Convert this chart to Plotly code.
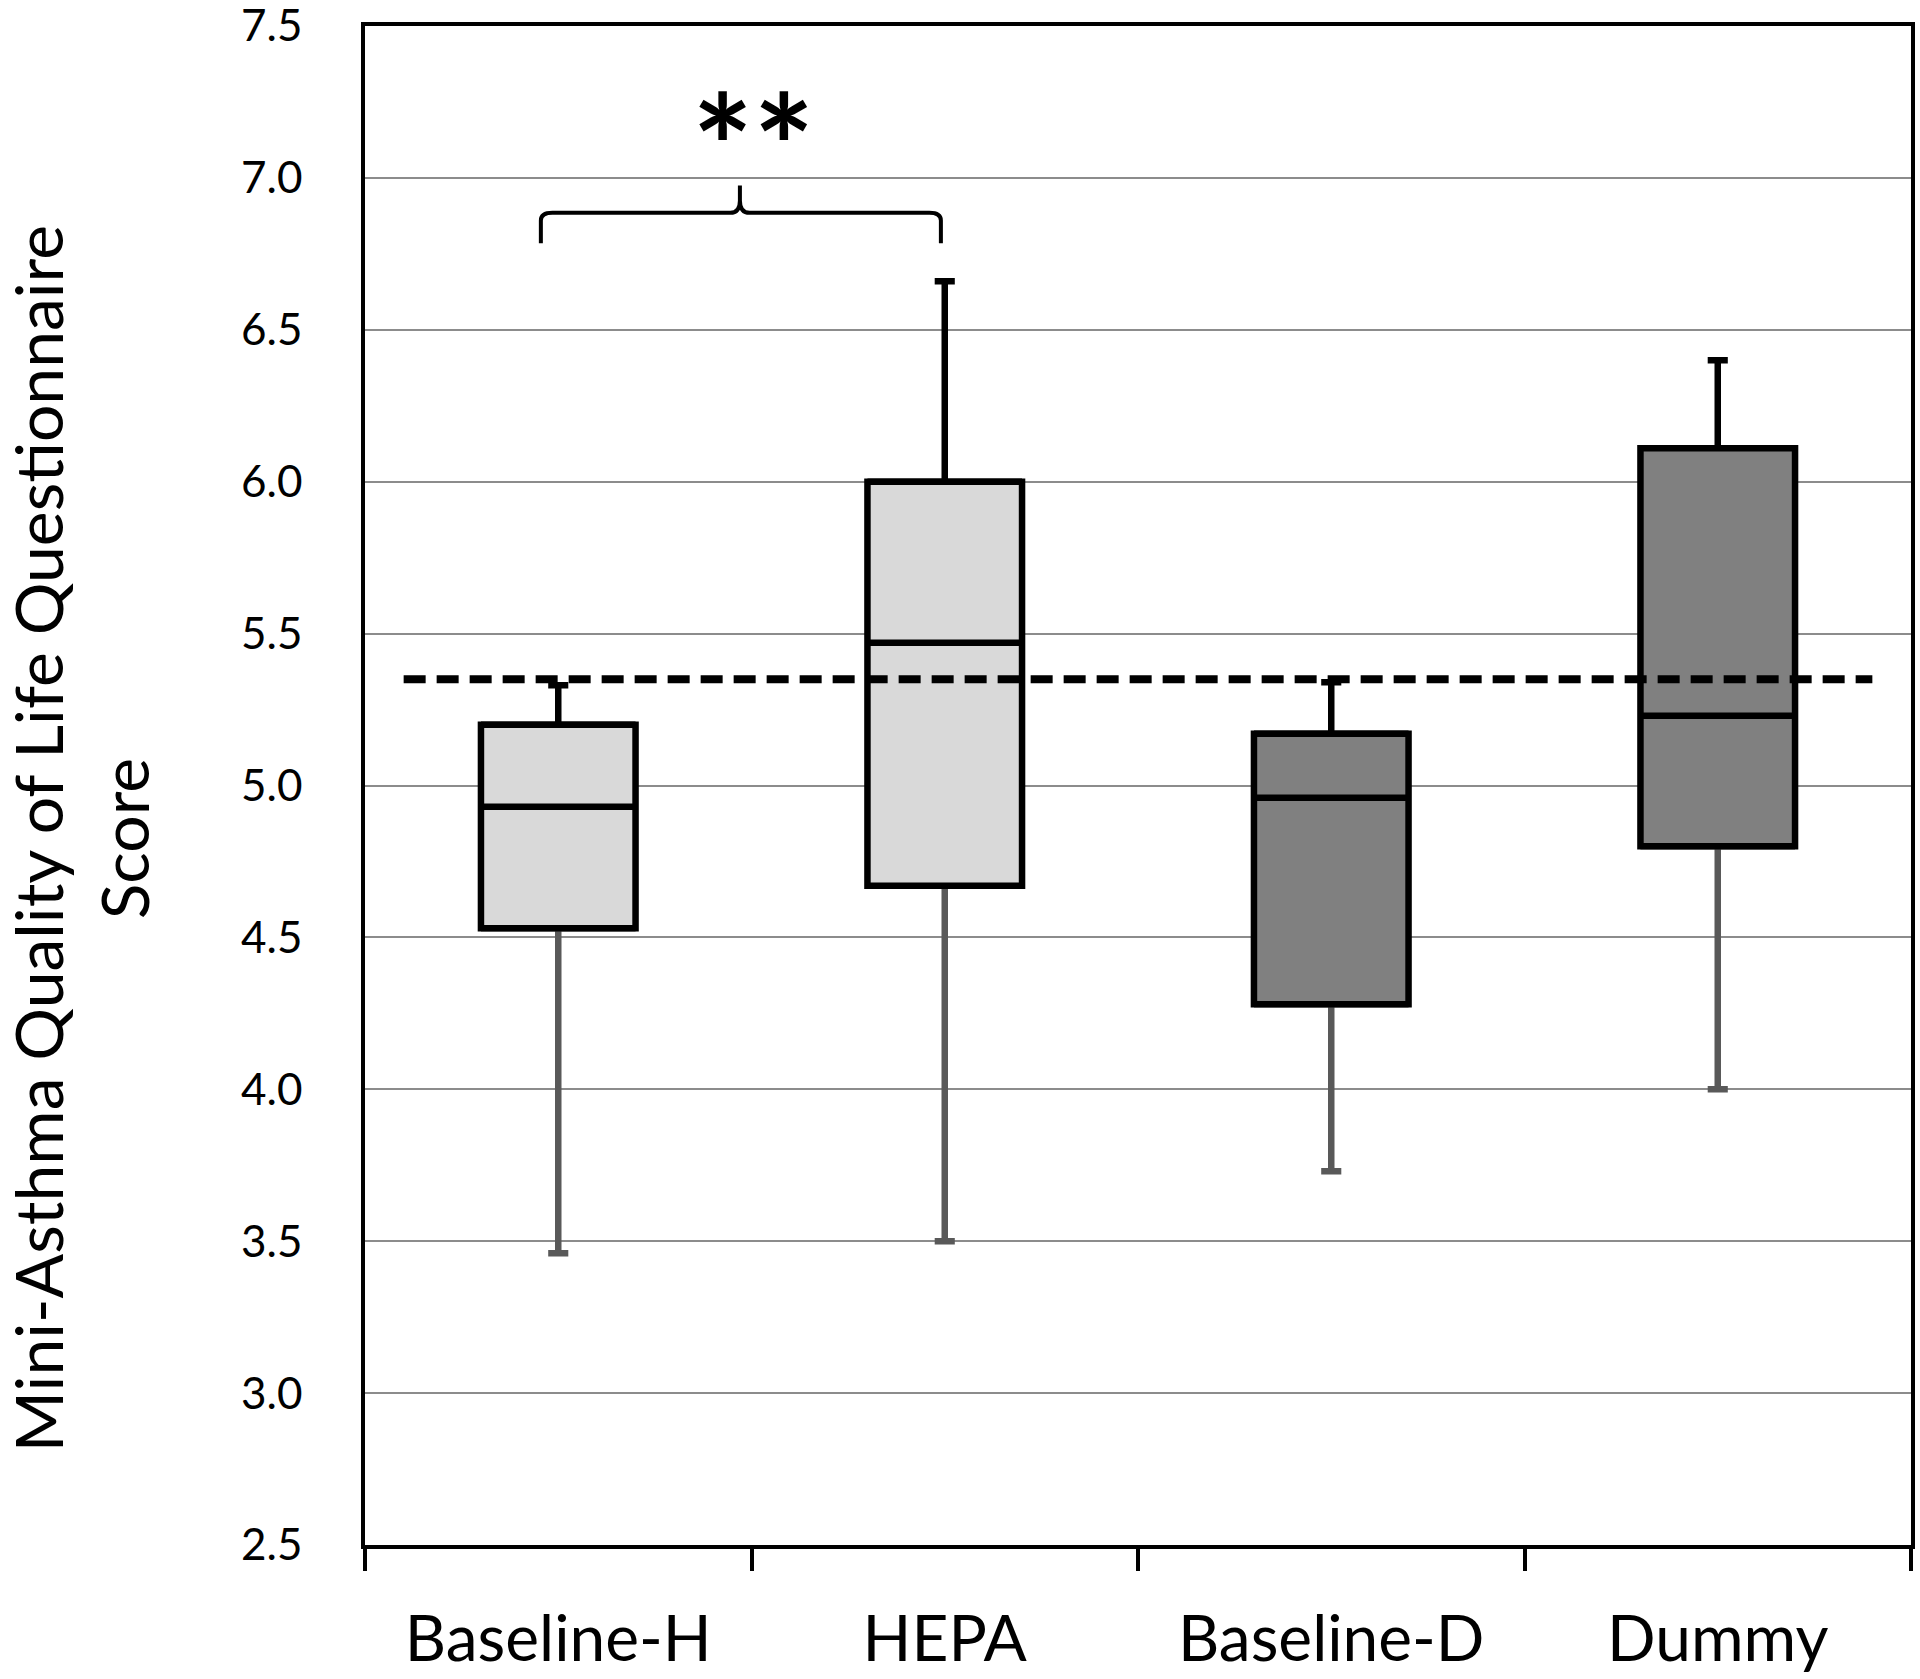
import plotly.graph_objects as go

# Data
CATEGORIES = ['Baseline-H', 'HEPA', 'Baseline-D', 'Dummy']
LOWER = [3.46, 3.50, 3.73, 4.00]
Q1 = [4.53, 4.67, 4.28, 4.80]
MEDIAN = [4.93, 5.47, 4.96, 5.23]
Q3 = [5.20, 6.00, 5.17, 6.11]
UPPER = [5.33, 6.66, 5.34, 6.40]
BOX_FILLS = ['#d9d9d9', '#d9d9d9', '#808080', '#808080']

REFERENCE_LINE = 5.35
Y_TICKS = [2.5, 3.0, 3.5, 4.0, 4.5, 5.0, 5.5, 6.0, 6.5, 7.0, 7.5]
Y_TITLE = 'Mini-Asthma Quality of Life Questionnaire<br>Score'
SIGNIFICANCE = '**'

# Configuration
FONT = 'Lato, Open Sans, sans-serif'
BOX_WIDTH = 0.4
LINE_W = 6.5
CAP = 0.13

fig = go.Figure()

# Lower whiskers (grey) and upper whiskers (black), drawn below the boxes
fig.add_trace(go.Box(x=CATEGORIES, q1=Q1, median=Q1, q3=Q1, lowerfence=LOWER, upperfence=Q1,
                     width=BOX_WIDTH, whiskerwidth=CAP, fillcolor='rgba(0,0,0,0)',
                     line=dict(color='#595959', width=LINE_W), boxpoints=False, hoverinfo='skip'))
fig.add_trace(go.Box(x=CATEGORIES, q1=Q3, median=Q3, q3=Q3, lowerfence=Q3, upperfence=UPPER,
                     width=BOX_WIDTH, whiskerwidth=CAP, fillcolor='rgba(0,0,0,0)',
                     line=dict(color='black', width=LINE_W), boxpoints=False, hoverinfo='skip'))

# Boxes, one trace per category so each gets its own fill
for i, cat in enumerate(CATEGORIES):
    fig.add_trace(go.Box(x=[cat], q1=[Q1[i]], median=[MEDIAN[i]], q3=[Q3[i]],
                         lowerfence=[Q1[i]], upperfence=[Q3[i]],
                         width=BOX_WIDTH, whiskerwidth=0, fillcolor=BOX_FILLS[i],
                         line=dict(color='black', width=LINE_W), boxpoints=False, hoverinfo='skip'))

# Dashed reference line
fig.add_shape(type='line', xref='x', yref='y', x0=-0.4, x1=3.4, y0=REFERENCE_LINE, y1=REFERENCE_LINE,
              line=dict(color='black', width=8, dash='22px,11px'))

# Curly brace between Baseline-H and HEPA
bx0, bx1, bmid = -0.045, 0.99, 0.47
y_end, y_bar, y_top = 6.785, 6.885, 6.975
brace = (f'M {bx0},{y_end} L {bx0},{y_bar - 0.025} Q {bx0},{y_bar} {bx0 + 0.03},{y_bar} '
         f'L {bmid - 0.025},{y_bar} Q {bmid},{y_bar} {bmid},{y_bar + 0.04} L {bmid},{y_top} '
         f'L {bmid},{y_bar + 0.04} Q {bmid},{y_bar} {bmid + 0.025},{y_bar} '
         f'L {bx1 - 0.03},{y_bar} Q {bx1},{y_bar} {bx1},{y_bar - 0.025} L {bx1},{y_end}')
fig.add_shape(type='path', xref='x', yref='y', path=brace, line=dict(color='black', width=4))

fig.add_annotation(x=bmid + 0.035, y=7.11, xref='x', yref='y', text=f'<b>{SIGNIFICANCE}</b>',
                   showarrow=False, font=dict(family=FONT, size=144, color='black'))

# Y axis title as a rotated two-line annotation
fig.add_annotation(x=-0.184, y=0.465, xref='paper', yref='paper', text=Y_TITLE, textangle=-90,
                   showarrow=False, xanchor='center', yanchor='middle',
                   font=dict(family=FONT, size=66, color='black'))

fig.update_layout(
    width=1920, height=1679,
    margin=dict(l=365, r=9, t=26, b=134),
    plot_bgcolor='white', paper_bgcolor='white',
    showlegend=False, boxmode='overlay',
    font=dict(family=FONT, color='black'),
)
fig.update_xaxes(type='category', categoryorder='array', categoryarray=CATEGORIES,
                 range=[-0.5, 3.5], automargin=False,
                 tickson='boundaries', ticks='outside', ticklen=22, tickwidth=3.5, tickcolor='black',
                 showline=True, linewidth=3.5, linecolor='black', mirror=True, showgrid=False,
                 tickfont=dict(size=64), ticklabelstandoff=35)
fig.update_yaxes(range=[2.5, 7.5], tickvals=Y_TICKS, tickformat='.1f', ticks='', automargin=False,
                 showline=True, linewidth=3.5, linecolor='black', mirror=True,
                 showgrid=True, gridcolor='#8c8c8c', gridwidth=2, zeroline=False,
                 tickfont=dict(size=44), ticklabelstandoff=50, ticklabeloverflow='allow')

fig.write_html("out.html", config={'displayModeBar': False},
               post_script="document.body.style.margin='0';")
